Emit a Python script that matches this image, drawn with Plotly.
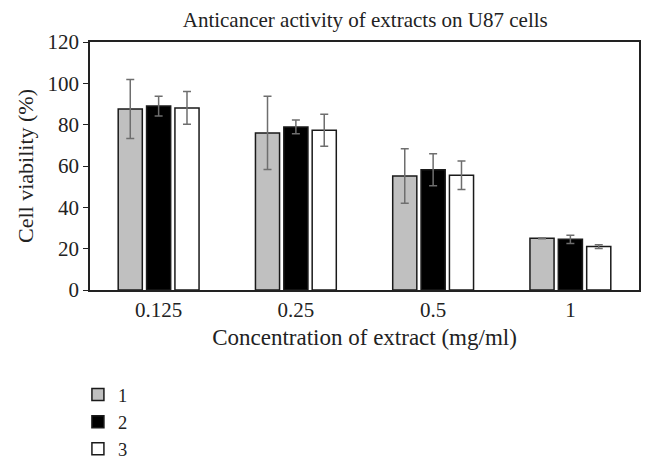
import plotly.graph_objects as go

# concentrations (mg/ml)
concentrations = ["0.125", "0.25", "0.5", "1"]

# mean cell viability (%) per extract
extract_1 = [87.6, 76.0, 55.2, 25.0]
extract_2 = [89.0, 78.9, 58.2, 24.5]
extract_3 = [88.1, 77.3, 55.5, 21.0]

# error bars (+/-)
err_1 = [14.3, 17.7, 13.2, 0.2]
err_2 = [4.8, 3.3, 7.7, 2.0]
err_3 = [7.9, 7.7, 6.9, 0.9]

series = [
    ("1", extract_1, err_1, "#c0c0c0"),
    ("2", extract_2, err_2, "#000000"),
    ("3", extract_3, err_3, "#ffffff"),
]

font_family = "Liberation Serif, Times New Roman, serif"

fig = go.Figure()
for name, vals, errs, color in series:
    fig.add_trace(go.Bar(
        x=concentrations, y=vals, name=name,
        marker=dict(color=color, line=dict(color="#1a1a1a", width=1.5)),
        error_y=dict(type="data", array=errs, color="#6e6e6e", thickness=1.5, width=4),
    ))

# page body has an 8px margin; extra height leaves room for the legend
fig.update_layout(
    width=646, height=480,
    margin=dict(l=82, r=15, t=34, b=198),
    paper_bgcolor="white", plot_bgcolor="white",
    font=dict(family=font_family, size=21, color="#222"),
    title=dict(text="Anticancer activity of extracts on U87 cells",
               x=0.553, xanchor="center", y=1 - 12 / 480, yanchor="middle",
               font=dict(size=21, color="#222")),
    barmode="group", bargap=0.38, bargroupgap=0.15,
    showlegend=True,
    legend=dict(x=-0.022, y=-0.347, xanchor="left", yanchor="top",
                orientation="v", font=dict(size=18.5), tracegroupgap=0,
                bgcolor="rgba(0,0,0,0)"),
)

fig.update_xaxes(
    title=dict(text="Concentration of extract (mg/ml)", font=dict(size=23), standoff=8),
    showline=True, linecolor="#222", linewidth=1.5, mirror=True,
    ticks="", showgrid=False, automargin=False, tickfont=dict(size=21),
)
fig.update_yaxes(
    title=dict(text="Cell viability (%)", font=dict(size=22), standoff=8),
    range=[0, 120], dtick=20,
    showline=True, linecolor="#222", linewidth=1.5, mirror=True,
    ticks="outside", ticklen=5, tickcolor="#222", showgrid=False, zeroline=False,
    automargin=False, tickfont=dict(size=21),
)

fig.write_html("out.html")
